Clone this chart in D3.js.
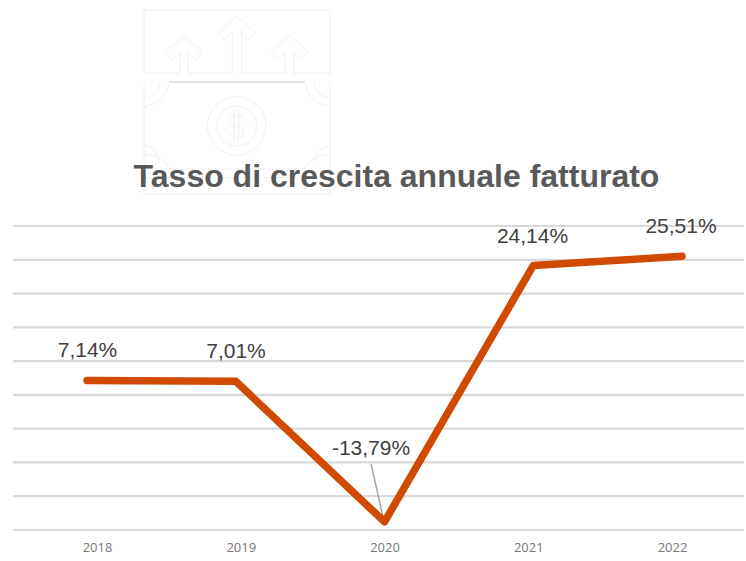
<!DOCTYPE html>
<html>
<head>
<meta charset="utf-8">
<script src="https://cdn.jsdelivr.net/npm/d3@7"></script>
<style>
html,body{margin:0;padding:0;background:#fff;}
svg{display:block;}
</style>
</head>
<body>
<svg id="chart" width="746" height="561"></svg>
<script>
var years = ["2018","2019","2020","2021","2022"];
var growth = [7.14,7.01,-13.79,24.14,25.51];
var labels = ["7,14%","7,01%","-13,79%","24,14%","25,51%"];
var gridValues = [-15,-10,-5,0,5,10,15,20,25,30];

var svg = d3.select("#chart");

//background icon, faint outlines behind the title
var icon = svg.append("g")
	.attr("transform","translate(130,0) scale(0.3333)")
	.attr("fill","none")
	.attr("stroke","#f0f0f0")
	.attr("stroke-width",3);
var iconPaths = [
	"M42,220V30H600V220",
	"M42,220H150V160L128,182L105,158L162,108L218,158L197,180L175,160V220H307V95L285,120L265,100L320,48L377,100L355,120L335,95V220H465V160L445,180L423,157L478,105L535,157L513,180L492,160V220H600",
	"M42,250V582H600V250",
	"M42,295Q85,285 88,250M42,320Q105,310 118,250",
	"M600,295Q557,285 552,250M600,320Q537,310 525,250",
	"M42,435Q85,445 88,490M42,462Q105,470 118,507",
	"M600,435Q557,445 552,490M600,462Q537,470 525,507",
	"M118,507H525M42,533H600",
	"M340,352Q320,335 300,355Q290,375 320,380Q350,385 340,405Q320,422 298,402M312,330V425M326,330V425"
];
icon.selectAll("path.outline").data(iconPaths).enter().append("path")
	.attr("class","outline")
	.attr("d",function(d){ return d; });
icon.selectAll("circle").data([88,60]).enter().append("circle")
	.attr("cx",320).attr("cy",378)
	.attr("r",function(d){ return d; });
icon.append("path").attr("d","M118,246H525").attr("stroke","#c8c8c8");

//title
svg.append("text")
	.attr("x",396.5).attr("y",187)
	.attr("text-anchor","middle")
	.attr("font-family","'Liberation Sans',Arial,sans-serif")
	.attr("font-weight","bold")
	.attr("font-size",32)
	.attr("fill","#595959")
	.text("Tasso di crescita annuale fatturato");

//scales: the tick labels sit on a narrower spread than the points
var x = d3.scalePoint().domain(years).range([87,682]);
var xLabels = d3.scalePoint().domain(years).range([97,672]);
var y = d3.scaleLinear().domain([-15,30]).range([530,226]);

//grid
svg.append("g").selectAll("line").data(gridValues).enter().append("line")
	.attr("x1",13).attr("x2",744)
	.attr("y1",function(d){ return y(d); })
	.attr("y2",function(d){ return y(d); })
	.attr("stroke","#d9d9d9")
	.attr("stroke-width",2.2);

//x axis
var xAxis = svg.append("g")
	.attr("transform","translate(0,540)")
	.call(d3.axisBottom(xLabels).tickSize(0).tickPadding(3));
xAxis.select(".domain").remove();
xAxis.selectAll("text")
	.attr("font-family","'Open Sans',sans-serif")
	.attr("font-size",13)
	.attr("fill","#777777");

//leader line of the 2020 label
svg.append("line")
	.attr("x1",371).attr("y1",464)
	.attr("x2",x("2020")-1).attr("y2",y(growth[2])-3)
	.attr("stroke","#a6a6a6")
	.attr("stroke-width",1.5);

//series
var line = d3.line()
	.x(function(d,i){ return x(years[i]); })
	.y(function(d){ return y(d); });
svg.append("path")
	.datum(growth)
	.attr("d",line)
	.attr("fill","none")
	.attr("stroke","#d04a02")
	.attr("stroke-width",7.5)
	.attr("stroke-linecap","round")
	.attr("stroke-linejoin","round");

//value labels
var labelX = [87.5,236,371,532.5,681];
var labelY = [357,358,455,243,233];
svg.append("g").selectAll("text").data(labels).enter().append("text")
	.attr("x",function(d,i){ return labelX[i]; })
	.attr("y",function(d,i){ return labelY[i]; })
	.attr("text-anchor","middle")
	.attr("font-family","'Liberation Sans',Arial,sans-serif")
	.attr("font-size",21)
	.attr("fill","#404040")
	.text(function(d){ return d; });
</script>
</body>
</html>
